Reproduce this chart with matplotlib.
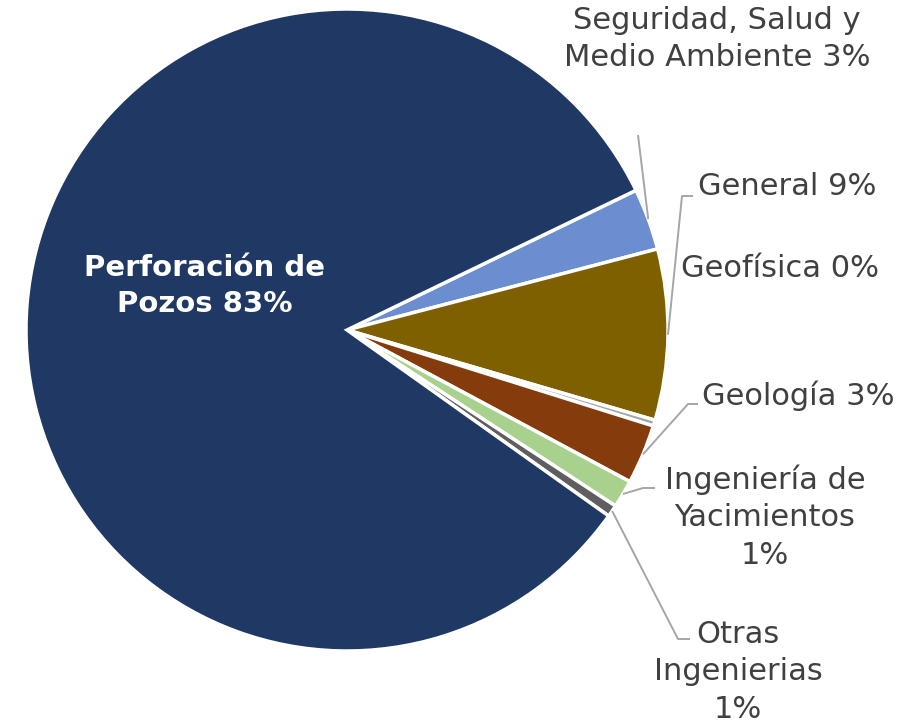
import numpy as np
import matplotlib.pyplot as plt

# slice data, clockwise from the upper right
names = ["Seguridad, Salud y\nMedio Ambiente", "General", "Geofísica", "Geología",
         "Ingeniería de\nYacimientos\n", "Otras\nIngenierias\n", "Perforación de\nPozos"]
values = [3.1, 8.6, 0.3, 3.0, 1.4, 0.6, 83.0]
colors = ["#6A8ECF", "#7F6000", "#A5A5A5", "#843C0C", "#A9D18E", "#5F5F5F", "#1F3864"]

W, H = 917, 725
cx, cy, R = 347, 330, 321  # pixel units, y from top


def px(x, y):
    return x, H - y


plt.rcParams['font.family'] = ['DejaVu Sans']
fig = plt.figure(figsize=(W / 100, H / 100), dpi=100)
ax = fig.add_axes([0, 0, 1, 1])

wedges, _ = ax.pie(values, colors=colors, startangle=25.8, counterclock=False,
                   center=px(cx, cy), radius=R, frame=True,
                   wedgeprops=dict(edgecolor='white', linewidth=2.5))
ax.set_xlim(0, W)
ax.set_ylim(0, H)
ax.set_aspect('equal')
ax.axis('off')

total = sum(values)
pct = [int(round(v / total * 100)) for v in values]
txt_col = "#404040"
line_col = "#A6A6A6"
fs = 22
lsp = 1.38


def edge_point(w):
    a = np.deg2rad((w.theta1 + w.theta2) / 2)
    return w.center[0] + w.r * np.cos(a), w.center[1] + w.r * np.sin(a)


# labels: (text position, leader path after the slice edge)
label_pos = [(717, 39), (787, 186), (780, 268), (798, 396), (765, 517), (738, 672)]
leaders = [
    [(638, 135)],
    [(682, 196), (693, 196)],
    None,
    [(688, 404), (698, 404)],
    [(643, 488), (655, 488)],
    [(678, 639), (690, 639)],
]

for i in range(6):
    name = names[i]
    if name.endswith("\n"):
        s = name + f"{pct[i]}%"
    else:
        s = name + f" {pct[i]}%"
    x, y = px(*label_pos[i])
    ax.text(x, y, s, ha='center', va='center', fontsize=fs, color=txt_col,
            linespacing=lsp)
    if leaders[i]:
        pts = [edge_point(wedges[i])] + [px(*p) for p in leaders[i]]
        xs, ys = zip(*pts)
        ax.plot(xs, ys, color=line_col, lw=1.4, solid_capstyle='butt')

x, y = px(205, 286)
ax.text(x, y, names[6] + f" {pct[6]}%", ha='center', va='center', fontsize=21,
        color='white', fontweight='bold', linespacing=lsp)

fig.savefig("out.png", dpi=100)
